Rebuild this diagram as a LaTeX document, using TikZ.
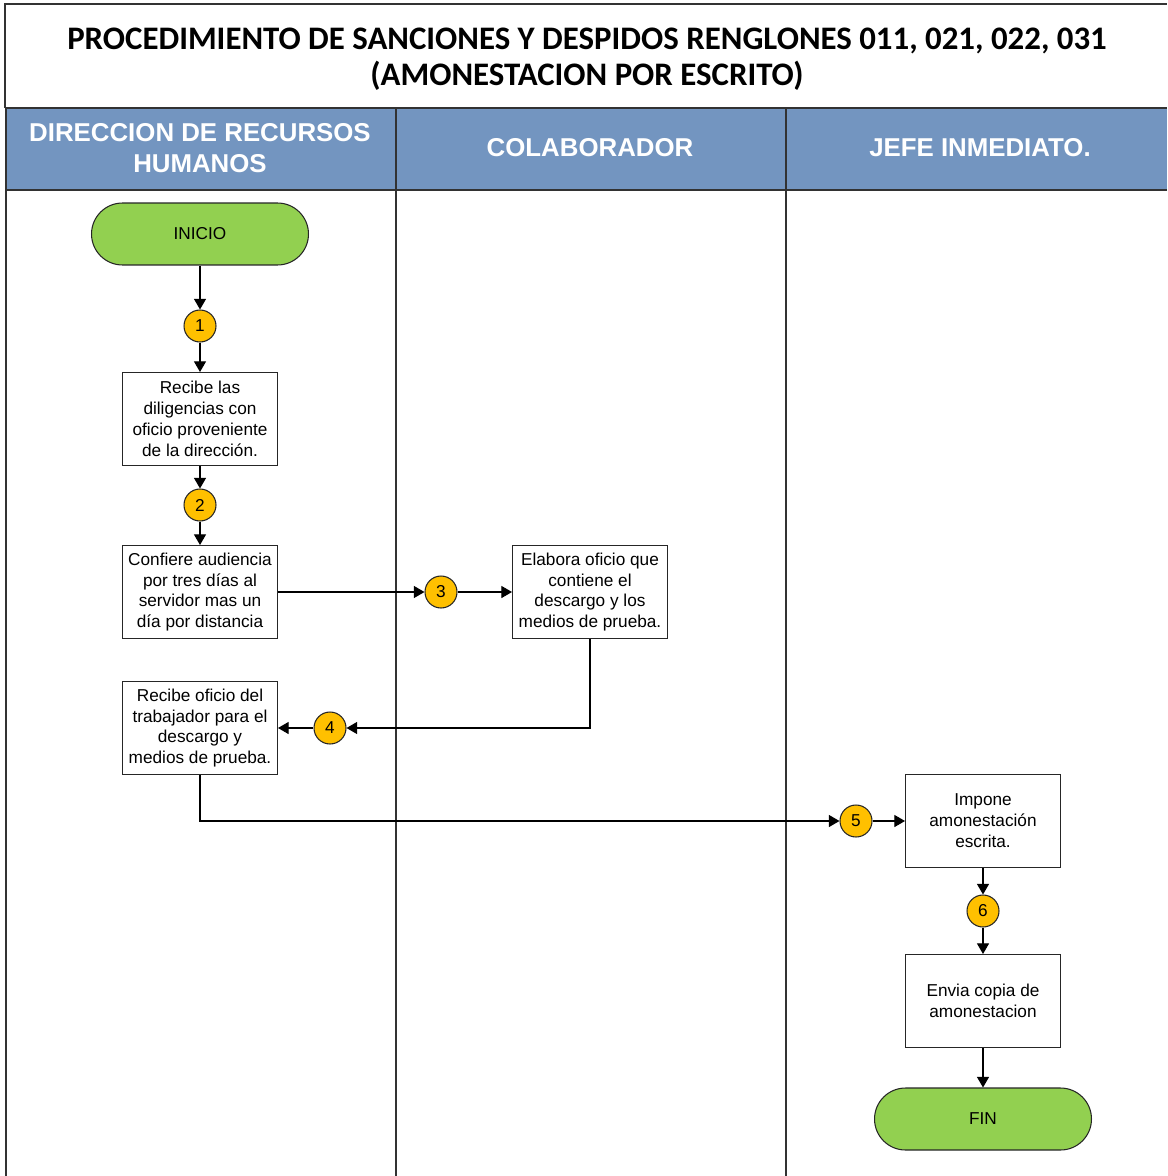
\documentclass[tikz,border=0pt]{standalone}
\usepackage{fontspec}
\setmainfont{Liberation Sans}
\newfontfamily\titlefont{Carlito}
\usetikzlibrary{arrows.meta}

\definecolor{laneblue}{RGB}{115,149,192}
\definecolor{termgreen}{RGB}{146,208,80}
\definecolor{stepgold}{RGB}{255,192,0}
\definecolor{laneline}{RGB}{50,50,50}

\tikzset{
  x=0.02cm, y=-0.02cm,
  every node/.style={font=\fontsize{9.8}{11.9}\selectfont},
  procbox/.style={draw=black!85, line width=0.6pt, fill=white, minimum width=3.1cm,
    minimum height=1.86cm, inner sep=2pt, align=center},
  terminal/.style={draw=black!85, line width=0.6pt, fill=termgreen, minimum width=4.34cm,
    minimum height=1.24cm, rounded corners=0.62cm},
  stepnum/.style={circle, draw=black!85, line width=0.6pt, fill=stepgold, minimum size=0.64cm, inner sep=0pt},
  flow/.style={line width=0.6pt, -{Triangle[length=6pt,width=6.8pt]}},
  lanehead/.style={text=white, font=\fontsize{14.7}{18}\selectfont\bfseries, align=center},
}

\begin{document}
\begin{tikzpicture}
  \useasboundingbox (0,0) rectangle (1167,1176);
  \fill[white] (0,0) rectangle (1167,1176);

  % title frame
  \draw[black!80, line width=0.8pt] (5,108) -- (5,4) -- (1167,4);
  \node[font=\titlefont\fontsize{18.7}{20.5}\selectfont\bfseries, align=center] (title) at (587,59)
    {PROCEDIMIENTO DE SANCIONES Y DESPIDOS RENGLONES 011, 021, 022, 031\\(AMONESTACION POR ESCRITO)};

  % lane header band
  \fill[laneblue] (6,108) rectangle (1167,190);
  \draw[laneline, line width=1pt] (6,108) -- (1167,108);
  \draw[laneline, line width=1pt] (6,190) -- (1167,190);
  \draw[laneline, line width=1.2pt] (6,108) -- (6,1176);
  \draw[laneline, line width=1.2pt] (396,108) -- (396,1176);
  \draw[laneline, line width=1.2pt] (786,108) -- (786,1176);

  \node[lanehead] (h1) at (200,148) {DIRECCION DE RECURSOS\\HUMANOS};
  \node[lanehead] (h2) at (590,148) {COLABORADOR};
  \node[lanehead] (h3) at (980,148) {JEFE INMEDIATO.};

  % lane 1
  \node[terminal] (inicio) at (200,234) {INICIO};
  \node[stepnum] (n1) at (200,326) {1};
  \node[procbox] (b1) at (200,419) {Recibe las\\diligencias con\\oficio proveniente\\de la dirección.};
  \node[stepnum] (n2) at (200,505) {2};
  \node[procbox] (b2) at (200,592) {Confiere audiencia\\por tres días al\\servidor mas un\\día por distancia};
  \node[procbox] (b4) at (200,728) {Recibe oficio del\\trabajador para el\\descargo y\\medios de prueba.};
  \node[stepnum] (n4) at (330,728) {4};

  % lane 2
  \node[stepnum] (n3) at (441,592) {3};
  \node[procbox] (b3) at (590,592) {Elabora oficio que\\contiene el\\descargo y los\\medios de prueba.};

  % lane 3
  \node[stepnum] (n5) at (856,821) {5};
  \node[procbox] (b5) at (983,821) {Impone\\amonestación\\escrita.};
  \node[stepnum] (n6) at (983,911) {6};
  \node[procbox] (b6) at (983,1001) {Envia copia de\\amonestacion};
  \node[terminal] (fin) at (983,1119) {FIN};

  % connectors
  \draw[flow] (inicio) -- (n1);
  \draw[flow] (n1) -- (b1);
  \draw[flow] (b1) -- (n2);
  \draw[flow] (n2) -- (b2);
  \draw[flow] (b2) -- (n3);
  \draw[flow] (n3) -- (b3);
  \draw[flow] (b3.south) |- (n4);
  \draw[flow] (n4) -- (b4);
  \draw[flow] (b4.south) |- (n5);
  \draw[flow] (n5) -- (b5);
  \draw[flow] (b5) -- (n6);
  \draw[flow] (n6) -- (b6);
  \draw[flow] (b6) -- (fin);
\end{tikzpicture}
\end{document}
